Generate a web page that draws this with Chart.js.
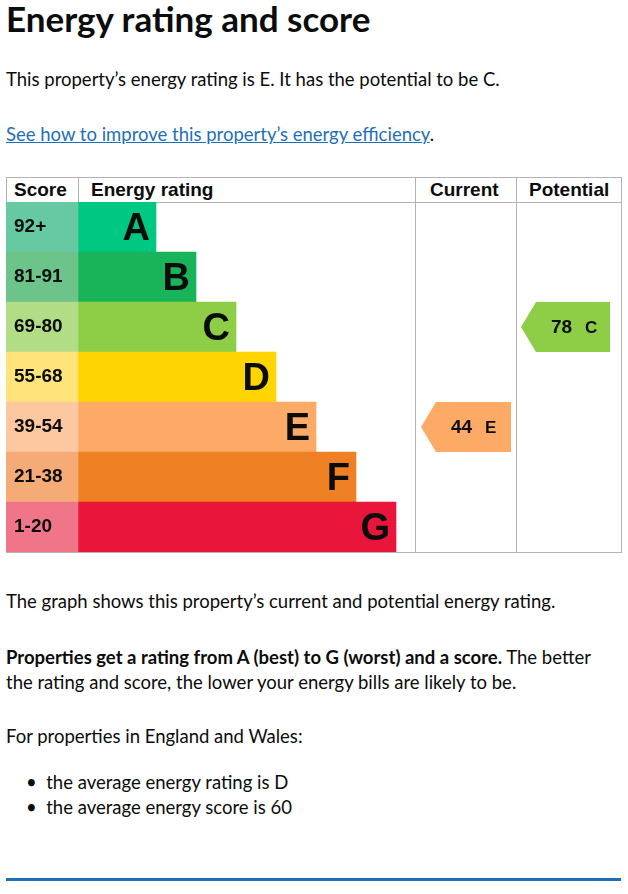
<!DOCTYPE html>
<html><head><meta charset="utf-8">
<script src="https://cdn.jsdelivr.net/npm/chart.js@4"></script>
<style>
body{margin:0;width:628px;height:894px;background:#fff;font-family:Lato,"Liberation Sans",sans-serif;color:#0b0c0c;position:relative;overflow:hidden}
.a{position:absolute;white-space:nowrap}
h1{position:absolute;left:6px;top:-4px;margin:0;font-size:35px;line-height:44px;font-weight:700}
.hd{position:absolute;top:178px;height:24px;font:bold 19px "Liberation Sans",Arial,sans-serif;line-height:24px}
.t{font-size:18.5px}
</style></head><body>
<h1>Energy rating and score</h1>
<div class="a t" style="left:6px;top:68px">This property’s energy rating is E. It has the potential to be C.</div>
<div class="a t" style="left:6px;top:123px"><span style="color:#1d70b8;text-decoration:underline">See how to improve this property’s energy efficiency</span>.</div>
<div class="a" style="left:6px;top:177px;width:614px;height:374px;border:1px solid #b1b4b6"></div>
<div class="a" style="left:6px;top:202px;width:615px;height:1px;background:#b1b4b6"></div>
<div class="a" style="left:78px;top:177px;width:1px;height:25px;background:#b1b4b6"></div>
<div class="a" style="left:415px;top:177px;width:1px;height:375px;background:#b1b4b6"></div>
<div class="a" style="left:516px;top:177px;width:1px;height:375px;background:#b1b4b6"></div>
<div class="hd" style="left:14px">Score</div>
<div class="hd" style="left:91px">Energy rating</div>
<div class="hd" style="left:430px">Current</div>
<div class="hd" style="left:529px">Potential</div>
<div class="a" style="left:6px;top:202px;width:615px;height:350px"><canvas id="c" width="615" height="350" style="width:615px;height:350px"></canvas></div>
<div class="a t" style="left:6px;top:590px">The graph shows this property’s current and potential energy rating.</div>
<div class="a t" style="left:6px;top:645px;line-height:25px"><b>Properties get a rating from A (best) to G (worst) and a score.</b> The better<br>the rating and score, the lower your energy bills are likely to be.</div>
<div class="a t" style="left:6px;top:725px">For properties in England and Wales:</div>
<div class="a t" style="left:26px;top:770px;line-height:25px">•&nbsp;&nbsp;the average energy rating is D<br>•&nbsp;&nbsp;the average energy score is 60</div>
<div class="a" style="left:6px;top:878px;width:615px;height:3px;background:#1d70b8"></div>
<script>
const bands=['A','B','C','D','E','F','G'];
const scoreLabels=['92+','81-91','69-80','55-68','39-54','21-38','1-20'];
const bandColors=['#00c781','#19b459','#8dce46','#ffd500','#fcaa65','#ef8023','#e9153b'];
const scoreColors=['#66c9a2','#6cc48b','#b3dc86','#ffe47a','#fdc8a0','#f5ab75','#f07588'];
const currentScore=44, currentBand='E';
const potentialScore=78, potentialBand='C';
const W=615;
const bandEnds=bands.map((b,i)=>150+40*i);
const arrowColor=b=>bandColors[bands.indexOf(b)];
const overlay={id:'ov',afterDatasetsDraw(ch){
 const c=ch.ctx,y=ch.scales.y;
 c.save();c.textBaseline='middle';
 bands.forEach((b,i)=>{const yc=y.getPixelForValue(i);
  c.fillStyle='#0b0c0c';c.font='bold 19px "Liberation Sans",Arial';c.textAlign='left';
  c.fillText(scoreLabels[i],8,yc);
  c.font='bold 38px "Liberation Sans",Arial';c.textAlign='right';
  c.fillText(b,bandEnds[i]-6,yc+3);});
 const arrow=(x0,x1,band,score)=>{const i=bands.indexOf(band),yc=y.getPixelForValue(i),h=25;
  c.fillStyle=arrowColor(band);c.beginPath();c.moveTo(x0,yc);c.lineTo(x0+15,yc-h);c.lineTo(x1,yc-h);c.lineTo(x1,yc+h);c.lineTo(x0+15,yc+h);c.closePath();c.fill();
  c.fillStyle='#0b0c0c';c.textAlign='left';c.font='bold 19px "Liberation Sans",Arial';c.fillText(String(score),x0+30,yc+1);
  c.font='bold 17px "Liberation Sans",Arial';c.fillText(band,x0+64,yc+1);};
 arrow(415,505,currentBand,currentScore);
 arrow(515,604,potentialBand,potentialScore);
 c.restore();}};
new Chart(document.getElementById('c'),{type:'bar',
 data:{labels:bands,datasets:[
  {data:bands.map(()=>[0,72]),backgroundColor:scoreColors,grouped:false,borderWidth:0},
  {data:bands.map((b,i)=>[72,bandEnds[i]]),backgroundColor:bandColors,grouped:false,borderWidth:0}]},
 options:{indexAxis:'y',responsive:false,animation:false,devicePixelRatio:1,
  layout:{padding:0},categoryPercentage:1,barPercentage:1,
  plugins:{legend:{display:false},tooltip:{enabled:false}},
  scales:{x:{display:false,min:0,max:W},y:{display:false}}},
 plugins:[overlay]});
</script>
</body></html>
